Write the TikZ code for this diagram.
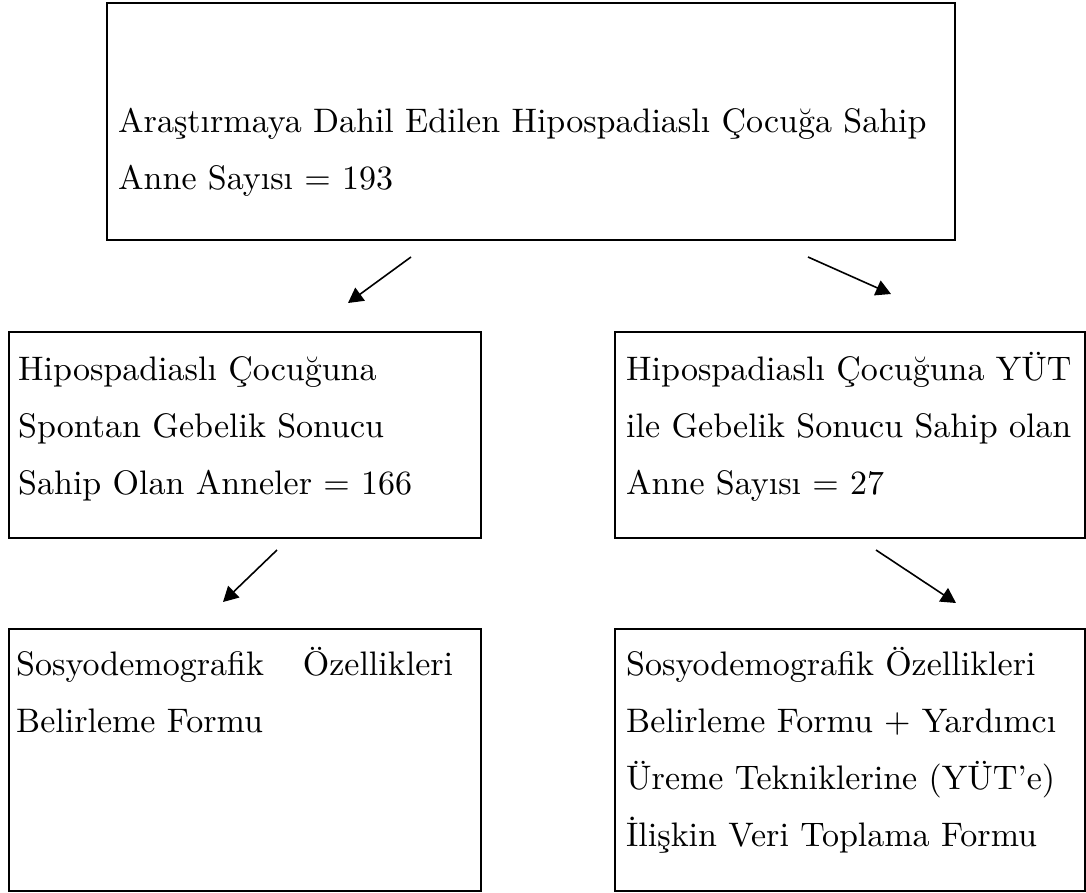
\documentclass[tikz,border=0pt]{standalone}
\usepackage{fontspec}
\setmainfont{lmroman10-regular}[Extension=.otf]
\usetikzlibrary{calc,arrows.meta}
\newcommand{\formbox}[6]{
	\node[box, minimum width=#3, minimum height=#4] (#1) at (#2) {};
	\node[boxtext] (#1text) at ($(#1.north west)+(#5)$) {\parbox[t]{900pt}{\raggedright #6}};
}

\begin{document}
\begin{tikzpicture}[x=1pt,y=-1pt,
	box/.style={draw, line width=1.8pt, anchor=north west, inner sep=0pt},
	boxtext/.style={anchor=base west, inner sep=0pt, font=\fontsize{34}{57}\selectfont},
	flow/.style={line width=1.6pt, -{Triangle[length=15pt,width=16pt]}}]
	\useasboundingbox (0,0) rectangle (1086,892);

	\formbox{total}{106,2}{848pt}{237pt}{12,130}{Araştırmaya Dahil Edilen Hipospadiaslı Çocuğa Sahip\\Anne Sayısı = 193}
	\formbox{spontan}{8,331}{472pt}{206pt}{10,49}{Hipospadiaslı Çocuğuna\\Spontan Gebelik Sonucu\\Sahip Olan Anneler = 166}
	\formbox{yut}{614,331}{470pt}{206pt}{12,49}{Hipospadiaslı Çocuğuna YÜT\\ile Gebelik Sonucu Sahip olan\\Anne Sayısı = 27}
	\formbox{spontanform}{8,628}{472pt}{262pt}{8,47}{\makebox[437pt][s]{Sosyodemografik Özellikleri}\\Belirleme Formu}
	\formbox{yutform}{614,628}{470pt}{262pt}{12,47}{Sosyodemografik Özellikleri\\Belirleme Formu + Yardımcı\\Üreme Tekniklerine (YÜT’e)\\İlişkin Veri Toplama Formu}

	\coordinate (totalL) at (411,257);
	\coordinate (spontanT) at (348,303);
	\coordinate (totalR) at (808,257);
	\coordinate (yutT) at (891,294);
	\coordinate (spontanB) at (277,550);
	\coordinate (spontanformT) at (223,602);
	\coordinate (yutB) at (876,550);
	\coordinate (yutformT) at (956,603);

	\draw[flow] (totalL) -- (spontanT);
	\draw[flow] (totalR) -- (yutT);
	\draw[flow] (spontanB) -- (spontanformT);
	\draw[flow] (yutB) -- (yutformT);
\end{tikzpicture}
\end{document}
